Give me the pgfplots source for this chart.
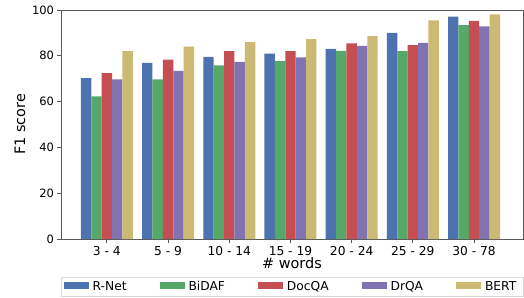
\documentclass[border=0pt]{standalone}
\usepackage{pgfplots}
\pgfplotsset{compat=1.18}
\usepackage{fontspec}
\setmainfont{DejaVu Sans}
\definecolor{cb}{HTML}{4C72B0}
\definecolor{cg}{HTML}{55A868}
\definecolor{cr}{HTML}{C44E52}
\definecolor{cp}{HTML}{8172B2}
\definecolor{cy}{HTML}{CCB974}
\begin{document}
\begin{tikzpicture}
\begin{axis}[
  scale only axis,
  width=462bp, height=229bp,
  ybar=0pt, bar width=10.4bp,
  xmin=-0.75, xmax=6.8,
  ymin=0, ymax=100,
  xtick={0,1,2,3,4,5,6},
  xticklabels={3 - 4,5 - 9,10 - 14,15 - 19,20 - 24,25 - 29,30 - 78},
  ytick={0,20,40,60,80,100},
  tick align=outside,
  tick pos=left,
  major tick length=3.5bp,
  axis line style={draw=black!65, line width=0.8pt},
  every tick/.style={black!65, line width=0.8pt},
  xticklabel style={font=\fontsize{12.3}{14}\selectfont},
  yticklabel style={font=\fontsize{11.5}{13}\selectfont},
  /pgf/number format/assume math mode=true,
  xlabel={\# words}, ylabel={F1 score},
  label style={font=\fontsize{14.5}{16}\selectfont},
  xlabel style={yshift=5bp},
  ylabel style={yshift=0bp},
  legend style={at={(0.5,-0.166)}, anchor=north, legend columns=5,
    draw=black!15, font=\fontsize{12.3}{14}\selectfont,
    /tikz/every even column/.append style={column sep=29bp},
    inner xsep=3bp, inner ysep=2bp,
    nodes={inner xsep=4bp}},
  legend image code/.code={\fill[#1] (0cm,-0.1cm) rectangle (0.88cm,0.17cm);},
]
\addplot[fill=cb, draw=none] coordinates {(0,70.2) (1,76.9) (2,79.5) (3,80.9) (4,83.0) (5,90.0) (6,97.1)};
\addplot[fill=cg, draw=none] coordinates {(0,62.3) (1,69.7) (2,75.8) (3,77.7) (4,82.1) (5,82.0) (6,93.4)};
\addplot[fill=cr, draw=none] coordinates {(0,72.4) (1,78.3) (2,82.0) (3,82.0) (4,85.4) (5,84.7) (6,95.2)};
\addplot[fill=cp, draw=none] coordinates {(0,69.7) (1,73.4) (2,77.3) (3,79.3) (4,84.3) (5,85.6) (6,92.9)};
\addplot[fill=cy, draw=none] coordinates {(0,82.0) (1,84.0) (2,86.0) (3,87.3) (4,88.6) (5,95.5) (6,98.1)};
\legend{R-Net,BiDAF,DocQA,DrQA,BERT}
\end{axis}
\pgfresetboundingbox
\path ([xshift=-61bp,yshift=10bp]current axis.north west) rectangle ([xshift=1bp,yshift=-59bp]current axis.south east);
\end{tikzpicture}
\end{document}
